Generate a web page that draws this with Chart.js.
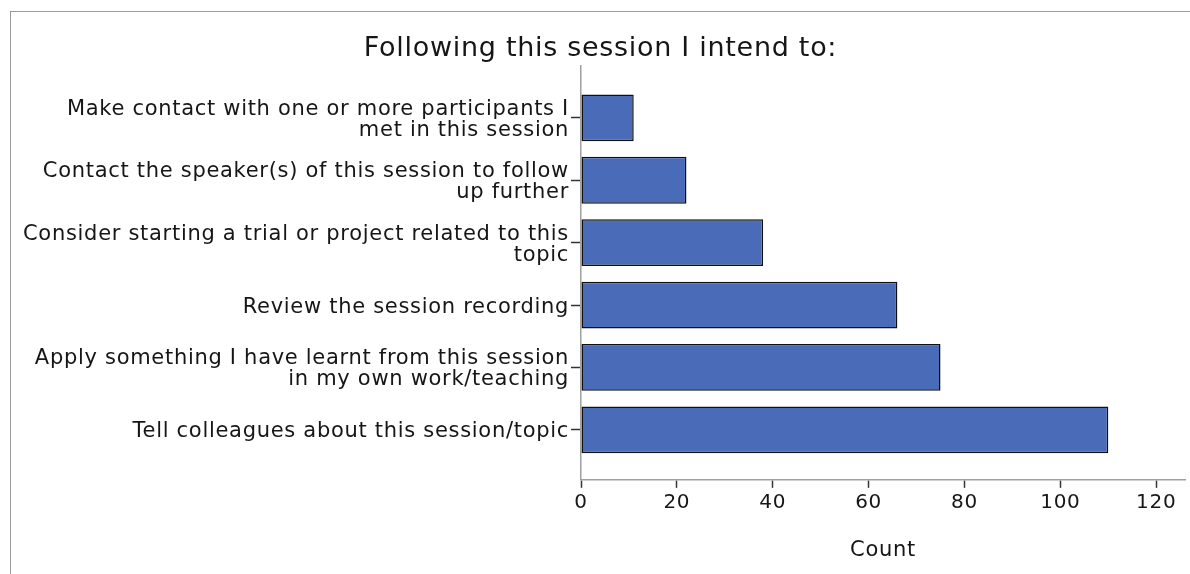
<!DOCTYPE html>
<html lang="en">
<head>
    <meta charset="UTF-8">
    <title>Following this session I intend to</title>
    <script src="https://cdn.jsdelivr.net/npm/chart.js"></script>
    <style>
        body {
            margin: 0;
            padding: 0;
            background: #fff;
        }
        .wrap {
            position: relative;
            width: 1190px;
            height: 574px;
        }
        .frame {
            position: absolute;
            left: 10px;
            top: 11px;
            right: 0;
            bottom: 0;
            border-left: 1px solid #9a9a9a;
            border-top: 1px solid #9a9a9a;
            pointer-events: none;
        }
        canvas {
            position: absolute;
            left: 0;
            top: 0;
        }
    </style>
</head>
<body>
    <div class="wrap">
        <canvas id="intentChart" width="1190" height="574"></canvas>
        <div class="frame"></div>
    </div>

    <script>
        // categories, top to bottom (each one split into the lines shown)
        const categories = [
            ['Make contact with one or more participants I', 'met in this session'],
            ['Contact the speaker(s) of this session to follow', 'up further'],
            ['Consider starting a trial or project related to this', 'topic'],
            ['Review the session recording'],
            ['Apply something I have learnt from this session', 'in my own work/teaching'],
            ['Tell colleagues about this session/topic']
        ];
        const counts = [11, 22, 38, 66, 75, 110];
        const xTicks = [0, 20, 40, 60, 80, 100, 120];

        const fontFamily = '"DejaVu Sans", sans-serif';
        const textColor = '#161616';

        // the original font runs a little wider than DejaVu;
        // canvas resizes wipe the context state, so set it every pass
        const widerText = {
            id: 'widerText',
            beforeLayout: chart => { chart.ctx.letterSpacing = '0.7px'; },
            beforeDraw: chart => { chart.ctx.letterSpacing = '0.7px'; }
        };

        const ctx = document.getElementById('intentChart').getContext('2d');

        const chart = new Chart(ctx, {
            type: 'bar',
            plugins: [widerText],
            data: {
                datasets: [{
                    label: 'Count',
                    data: counts.map((c, i) => ({ x: c, y: i })),
                    backgroundColor: '#4a6bb8',
                    borderColor: '#111',
                    borderWidth: 1.5,
                    borderSkipped: false,
                    categoryPercentage: 1,
                    barPercentage: 0.75
                }]
            },
            options: {
                responsive: false,
                animation: false,
                indexAxis: 'y',
                layout: {
                    padding: { left: 16, right: 5, top: 0, bottom: 11 }
                },
                plugins: {
                    legend: { display: false },
                    tooltip: { enabled: false },
                    title: {
                        display: true,
                        text: 'Following this session I intend to:',
                        color: textColor,
                        font: { family: fontFamily, size: 27, weight: 'normal', lineHeight: 1.2 },
                        padding: { top: 33, bottom: 0 }
                    }
                },
                scales: {
                    x: {
                        type: 'linear',
                        min: 0,
                        max: 126,
                        bounds: 'data',
                        afterBuildTicks: scale => {
                            scale.ticks = xTicks.map(v => ({ value: v }));
                        },
                        ticks: {
                            color: textColor,
                            font: { family: fontFamily, size: 20 },
                            padding: 3,
                            maxRotation: 0
                        },
                        grid: {
                            drawOnChartArea: false,
                            drawTicks: true,
                            tickLength: 8,
                            tickColor: '#333',
                            tickWidth: 1.5
                        },
                        border: { color: '#a0a0a0', width: 1.5 },
                        title: {
                            display: true,
                            text: 'Count',
                            color: textColor,
                            font: { family: fontFamily, size: 21 },
                            padding: { top: 20, bottom: 0 }
                        }
                    },
                    y: {
                        type: 'linear',
                        reverse: true,
                        offset: false,
                        min: -0.84,
                        max: 5.8,
                        bounds: 'data',
                        afterBuildTicks: scale => {
                            scale.ticks = categories.map((c, i) => ({ value: i }));
                        },
                        afterFit: scale => {
                            scale.width = 565;
                        },
                        ticks: {
                            color: textColor,
                            font: { family: fontFamily, size: 21, lineHeight: 1.0 },
                            padding: 2,
                            labelOffset: 2,
                            autoSkip: false,
                            callback: v => categories[v]
                        },
                        grid: {
                            offset: false,
                            drawOnChartArea: false,
                            drawTicks: true,
                            tickLength: 10,
                            tickColor: '#333',
                            tickWidth: 1.5
                        },
                        border: { color: '#a0a0a0', width: 1.5 }
                    }
                }
            }
        });
    </script>
</body>
</html>
